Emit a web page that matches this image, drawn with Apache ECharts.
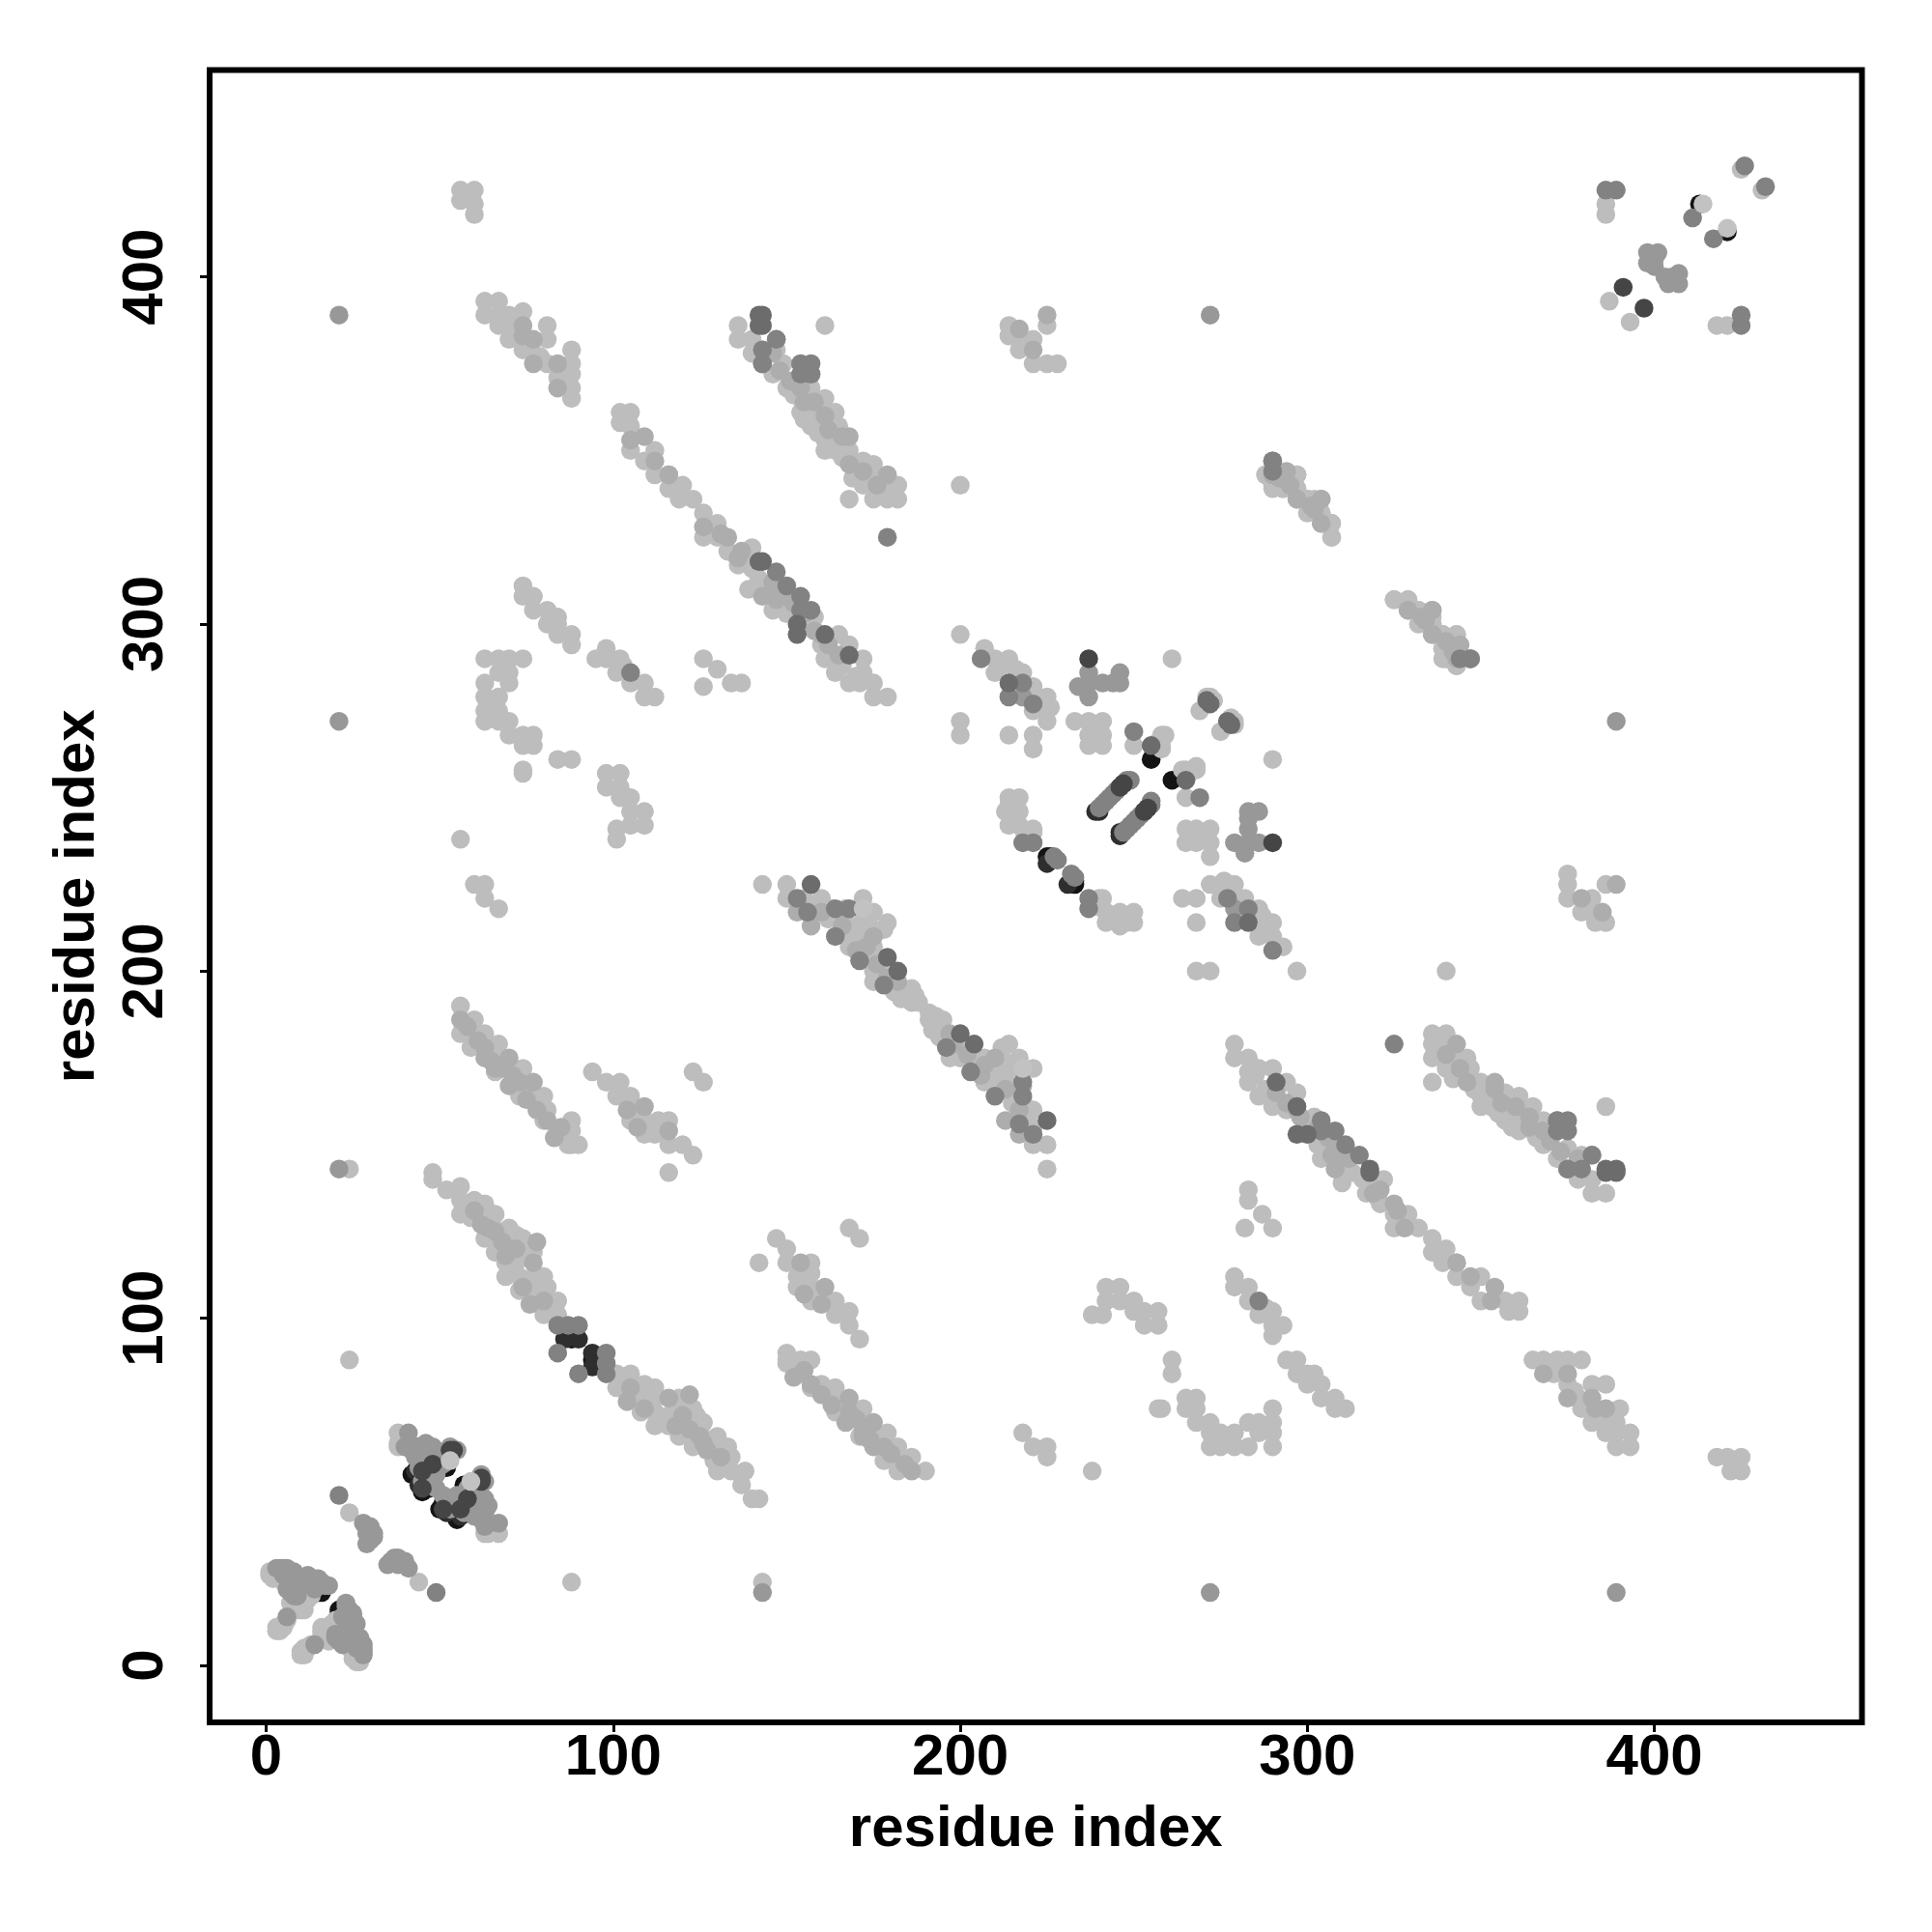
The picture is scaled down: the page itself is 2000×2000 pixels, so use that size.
<!DOCTYPE html>
<html><head><meta charset="utf-8">
<style>html,body{margin:0;padding:0;background:#fff}#c{width:2000px;height:2000px}</style>
<script src="https://cdn.jsdelivr.net/npm/echarts@6/dist/echarts.min.js"></script>
</head><body><div id="c"></div>
<script>
// Residue pairs [i, j], i < j; the contact map is symmetric.
const tickValues = [0, 100, 200, 300, 400];
const blackPairs = [[13,21],[14,22],[12,20],[15,21],[16,21],[44,56],[45,54],[46,52],[48,58],[49,58],[50,57],[42,55],[45,51],[46,51],[45,50],[47,51],[52,57],[51,57],[88,94],[88,95],[225,233],[255,261],[413,421],[226,233]];
const nearBlackPairs = [[86,94],[90,94],[225,231],[239,246],[240,246],[246,253],[247,254],[146,310],[43,56],[44,52]];
const lightPairs = [
[1,27],[1,26],[2,25],[4,25],[5,24],[3,11],[4,11],[5,11],[4,10],[3,10],[5,12],[6,13],[9,17],[10,18],[11,18],[12,19],[9,16],[10,16],[7,18],[10,17],[13,20],[11,16],
[24,44],[38,67],[38,63],[38,64],[24,88],[24,143],[116,142],
[48,142],[48,140],[52,137],[56,138],[56,134],[56,130],[60,134],[59,129],[63,133],[63,123],[64,129],[66,130],[66,119],[65,127],[68,125],[70,126],[69,122],[72,124],[74,123],[73,119],[69,116],[69,112],[73,108],[77,119],[72,116],[73,112],[77,112],[77,108],[80,112],[81,109],[77,105],[80,101],[84,105],[84,101],[79,104],[76,110],[81,105],
[94,171],[98,168],[102,168],[101,164],[105,164],[105,157],[109,157],[109,153],[113,157],[116,157],[112,153],[116,150],[120,150],[123,147],[123,171],[126,168],[105,160],[108,158],[113,155],[110,156],
[56,190],[60,186],[56,182],[59,178],[63,182],[67,179],[66,171],[74,172],[73,164],[80,164],[80,157],[84,154],[88,157],[88,154],[87,150],[90,150],[60,182],[64,178],[66,176],[70,172],[72,170],[75,166],[78,163],[81,160],[86,153],[88,150],
[63,290],[67,290],[70,290],[74,290],[67,286],[70,286],[70,283],[63,283],[63,279],[67,279],[63,275],[67,275],[63,272],[67,272],[70,272],[70,268],[74,268],[77,268],[74,265],[77,265],[84,261],[88,261],[74,258],[74,257],[65,277],[66,274],
[98,257],[102,257],[98,253],[102,253],[102,250],[105,250],[105,246],[109,246],[105,242],[109,242],[101,241],[101,238],[56,238],[60,225],[63,225],[63,221],[67,218],
[81,300],[84,297],[88,297],[88,294],[74,311],[74,308],[77,308],[77,304],[81,304],[84,302],[84,300],
[95,290],[98,293],[98,290],[102,290],[101,286],[105,283],[109,283],[109,279],[112,279],[126,290],[130,287],[126,282],[134,283],[137,283],[103,288],
[56,425],[60,425],[56,422],[60,421],[60,418],
[63,393],[67,393],[63,389],[67,389],[67,386],[70,389],[74,390],[70,382],[73,382],[74,379],[77,378],[81,386],[81,382],[81,375],[84,371],[88,379],[88,375],[88,372],[88,368],[88,365],[71,385],[75,381],[79,377],[86,373],
[102,361],[105,361],[102,358],[105,357],[105,350],[109,347],[112,350],[112,343],[116,339],[120,340],[119,336],[123,336],[126,332],[130,329],[126,325],[130,325],[133,321],[136,317],[140,322],[139,310],[116,343],[128,327],[135,320],[142,313],[145,308],[148,307],[151,308],[146,304],[158,302],[157,300],[160,294],[161,290],[164,290],[165,297],[168,294],[164,286],[172,290],[168,283],[172,286],[171,283],[175,283],[175,279],[179,279],[150,303],[153,305],[162,292],[166,288],[170,285],[138,318],[140,316],[144,311],
[136,386],[136,382],[140,382],[140,378],[143,379],[147,379],[143,375],[146,372],[149,375],[150,368],[154,365],[157,368],[161,365],[154,361],[157,361],[160,361],[164,361],[157,357],[161,357],[165,357],[161,353],[164,354],[161,350],[164,350],[168,350],[172,347],[175,346],[172,343],[175,343],[172,340],[175,339],[179,339],[182,340],[175,336],[179,336],[182,336],[168,336],[200,340],[161,386],[166,352],[170,345],[177,341],[152,366],[155,359],[159,355],[163,356],[166,348],[169,342],
[214,386],[214,383],[217,382],[221,382],[217,379],[221,375],[225,375],[228,375],[225,386],
[288,343],[290,339],[293,343],[293,339],[297,339],[300,336],[302,336],[304,332],[307,329],[307,325],[297,343],
[325,307],[329,307],[329,304],[332,304],[336,304],[332,300],[336,300],[339,297],[343,297],[339,293],[340,290],[343,288],[343,293],
[425,431],[386,421],[386,418],[387,393],
[200,297],[207,293],[210,290],[214,290],[210,286],[218,286],[221,282],[221,278],[221,275],[225,279],[225,275],[226,276],[225,272],[216,287],[212,288],[224,277],
[200,272],[200,268],[214,268],[221,268],[221,264],[233,272],[237,272],[241,272],[237,268],[241,268],[237,265],[241,265],[239,270],[239,267],[261,290],
[250,265],[258,268],[258,265],[259,268],[257,266],[258,264],[269,275],[273,278],[272,279],[271,279],
[214,250],[217,250],[213,246],[217,246],[214,242],[217,242],[221,241],[214,248],[216,244],[215,245],[218,241],[221,240],
[143,225],[150,225],[150,221],[155,221],[160,221],[172,221],[172,217],[175,217],[179,214],[167,214],[162,215],[166,211],[168,207],[171,210],[175,207],[173,205],[175,200],[175,197],[177,200],[181,194],[186,195],[186,191],[183,192],[187,193],[178,212],[174,213],[170,213],[165,215],[158,219],[163,218],[170,209],[177,203],[184,194],[188,191]
];
const midLightPairs = [
[60,131],[62,127],[64,126],[66,125],[68,122],[69,118],[72,120],[77,116],[74,109],[76,104],[80,105],[78,122],
[109,161],[116,154],[104,160],[107,155],
[56,186],[63,175],[70,175],[66,172],[77,168],[70,167],[58,184],[61,180],[63,178],[65,174],[68,172],[71,170],[73,168],[75,163],[78,160],[81,157],[83,152],[85,155],
[74,386],[77,382],[84,375],[84,368],[74,383],[77,375],
[105,353],[109,354],[112,347],[116,343],[126,328],[133,325],[137,321],[143,308],[160,297],[147,307],[136,319],[131,326],[146,312],[149,309],[152,306],[155,303],[158,298],[162,294],[165,291],
[143,375],[147,382],[154,368],[157,372],[168,354],[179,343],[168,346],[161,360],[146,378],[155,364],[172,344],[176,340],[148,373],[151,370],[158,364],[162,356],[166,354],
[221,379],[225,389],[217,385],
[290,343],[297,336],[304,336],[304,329],[301,334],[292,342],
[336,297],[333,302],[340,295],[344,294],
[153,217],[157,213],[167,218],[175,210],[170,206],[160,217],[166,213],[173,207],[176,202],[179,198],[182,197]
];
const midPairs = [
[6,14],[3,28],[4,28],[5,28],[6,28],[7,27],[8,27],[5,26],[6,26],[7,26],[7,25],[8,25],[9,25],[7,24],[8,24],[7,23],[8,23],[6,22],[7,22],[8,22],[7,21],[8,21],[8,20],[9,20],[12,26],[13,25],[14,25],[15,25],[16,24],[17,23],[18,23],[15,23],[14,22],[13,23],[12,24],
[28,41],[30,39],[31,37],[29,35],[30,40],[29,38],[30,36],[31,38],[29,40],
[41,67],[40,63],[41,64],[42,63],[43,63],[44,63],[45,63],[46,63],[47,63],[48,63],[49,62],[42,62],[43,62],[44,61],[45,61],[46,60],[44,59],[45,59],[45,57],[46,56],[47,55],[47,58],[46,61],[47,60],[48,60],[49,60],[45,53],[47,54],[48,53],[49,51],[47,52],[43,60],[44,57],
[21,143],[272,389],[21,272],[21,389],[62,55],[63,53],[64,46],[63,43],[62,47],[60,50],[58,51],[56,47],[54,46],[60,44],[64,41],[58,46],[55,49],[61,52],[59,49],
[398,407],[401,407],[398,404],[400,405],[400,403],
[218,279],[237,286],[237,279],[237,283],[241,283],[246,286],[246,283],[234,282],[244,283]
];
const midDarkPairs = [
[21,49],[84,90],[84,98],[87,98],[98,90],
[411,417],[426,432],[386,425],[389,425],[344,290],[347,290],
[143,379],[150,311],[154,308],[157,304],[154,304],[147,382],[143,375],
[153,221],[156,217],[164,218],[168,218],[164,210],[171,203],[178,196],
[218,237],[221,237],[227,233],[228,232],[206,290],[214,279],[218,283],[221,277],[250,269],
[249,255],[245,252],[244,251],[243,250],[242,249],[241,248],[240,247],[248,255],[290,347],[154,375],[157,375],[154,372],[157,372],[105,286],[179,325],[147,315]
];
const darkPairs = [[143,389],[143,386],[142,389],[142,386],[143,318],[142,318],[153,300],[153,297],[161,297],[168,291],[157,225],[179,204],[182,200],[214,283],[255,265],[272,277],[271,278]];
const topDarkPairs = [[53,62],[54,62],[237,290],[391,397],[246,253],[247,254],[48,58],[45,56],[45,51]];
const topLightPairs = [[53,59],[414,421],[172,218]];

const layers = [
  [blackPairs, '#141414'], [nearBlackPairs, '#2e2e2e'], [lightPairs, '#bdbdbd'],
  [midLightPairs, '#adadad'], [midPairs, '#989898'], [midDarkPairs, '#828282'],
  [darkPairs, '#6c6c6c'], [topDarkPairs, '#454545'], [topLightPairs, '#c2c2c2']
];
const bothWays = pairs => pairs.flatMap(([i, j]) => [[i, j], [j, i]]);

const font = 'Liberation Sans, Arial, Helvetica, sans-serif';
const axisCommon = {
  type: 'value', name: 'residue index', nameLocation: 'middle', nameMoveOverlap: false,
  nameTextStyle: { fontFamily: font, fontWeight: 'bold', fontSize: 60, color: '#000' },
  axisLine: { show: false, onZero: false }, splitLine: { show: false },
  axisTick: { show: true, length: 10, lineStyle: { color: '#000', width: 3 }, customValues: tickValues }
};
const chart = echarts.init(document.getElementById('c'), null, { renderer: 'canvas' });
chart.setOption({
  animation: false, backgroundColor: '#fff',
  grid: { left: 217, top: 72.5, width: 1710.5, height: 1710.5, show: true, borderColor: '#000', borderWidth: 6, backgroundColor: '#fff' },
  xAxis: Object.assign({}, axisCommon, { min: -16.28, max: 459.8, nameGap: 81,
    axisLabel: { customValues: tickValues, margin: 7, fontFamily: font, fontWeight: 'bold', fontSize: 60, color: '#000' } }),
  yAxis: Object.assign({}, axisCommon, { min: -16.4, max: 459.6, nameGap: 107,
    axisLabel: { customValues: tickValues, rotate: 90, margin: 36, fontFamily: font, fontWeight: 'bold', fontSize: 60, color: '#000' } }),
  series: layers.map(([pairs, color]) => ({
    type: 'scatter', symbol: 'circle', symbolSize: 19.5, silent: true,
    itemStyle: { color: color, opacity: 1 }, data: bothWays(pairs)
  }))
});
</script></body></html>
